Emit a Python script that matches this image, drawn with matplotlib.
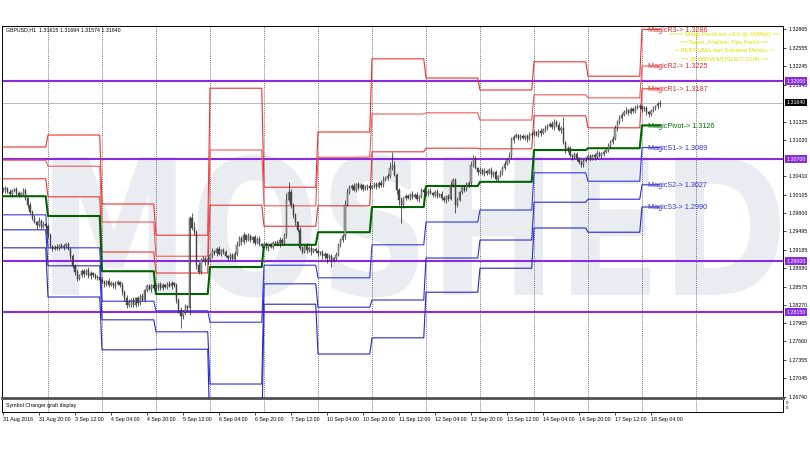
import numpy as np
import matplotlib.pyplot as plt
import matplotlib.transforms as mtrans
from matplotlib.textpath import TextPath
from matplotlib.patches import PathPatch
from matplotlib.font_manager import FontProperties

plt.rcParams['font.family'] = ['Liberation Sans', 'DejaVu Sans']

# GBPUSD H1 closes, in 1/10000 (13018 -> 1.3018)
first_open = 13020
closes = [
    13018, 13022, 13015, 13012, 13017, 13020, 13013, 13010, 13013, 13018,
    13005, 12993, 12982, 12972, 12965, 12960, 12967, 12957, 12962, 12958,
    12943, 12925, 12920, 12923, 12922, 12927, 12923, 12925, 12928, 12920,
    12908, 12892, 12882, 12870, 12877, 12883, 12878, 12885, 12875, 12880,
    12877, 12872, 12873, 12868, 12865, 12862, 12867, 12860, 12863, 12858,
    12862, 12865, 12860, 12848, 12838, 12827, 12832, 12835, 12827, 12838,
    12830, 12842, 12835, 12852, 12858, 12853, 12860, 12855, 12857, 12862,
    12855, 12860, 12857, 12862, 12858, 12863, 12860, 12835, 12818, 12808,
    12815, 12825, 12822, 12972, 12955, 12948, 12893, 12882, 12902, 12905,
    12898, 12903, 12910, 12917, 12913, 12920, 12912, 12918, 12915, 12908,
    12905, 12910, 12903, 12912, 12927, 12938, 12932, 12943, 12935, 12942,
    12935, 12940, 12930, 12937, 12928, 12925, 12928, 12922, 12927, 12923,
    12930, 12932, 12927, 12935, 12930, 12943, 13002, 13015, 12993, 12977,
    12965, 12952, 12922, 12915, 12925, 12918, 12922, 12915, 12920, 12917,
    12913, 12915, 12908, 12912, 12905, 12908, 12902, 12905, 12910, 12927,
    12935, 12942, 12993, 13015, 13022, 13025, 13018, 13028, 13022, 13027,
    13020, 13023, 13025, 13022, 13025, 13028, 13023, 13030, 13027, 13035,
    13038, 13042, 13055, 13060, 13043, 13018, 13002, 12993, 13005, 13008,
    13005, 13012, 13007, 13010, 13003, 13008, 13018, 13015, 13012, 13017,
    13013, 13010, 13015, 13008, 13012, 13005, 13002, 13008, 13003, 13027,
    13035, 12993, 13002, 13015, 13022, 13018, 13027, 13030, 13060, 13072,
    13055, 13048, 13052, 13045, 13050, 13047, 13052, 13043, 13048, 13037,
    13042, 13048, 13055, 13062, 13068, 13075, 13102, 13107, 13110, 13105,
    13108, 13105, 13108, 13103, 13110, 13112, 13115, 13110, 13117, 13113,
    13118, 13122, 13125, 13128, 13123, 13132, 13127, 13118, 13122, 13098,
    13085, 13088, 13077, 13073, 13078, 13072, 13065, 13060, 13067, 13072,
    13075, 13070, 13077, 13073, 13080, 13075, 13078, 13082, 13085, 13092,
    13098, 13103, 13122, 13132, 13138, 13143, 13148, 13152, 13147, 13153,
    13150, 13155, 13157, 13158, 13153, 13155, 13148, 13145, 13150, 13155,
    13158, 13162, 13164,
]
# upper / lower shadow beyond the body, same units
wick_up = [
    4, 3, 2, 5, 3, 2, 4, 3, 2, 4, 3, 2, 5, 3, 4, 2, 6, 3, 4, 2,
    3, 4, 2, 3, 5, 2, 3, 4, 2, 3, 2, 4, 3, 5, 2, 4, 3, 2, 5, 3,
    2, 3, 4, 2, 5, 3, 2, 4, 3, 2, 4, 3, 2, 5, 3, 6, 4, 3, 5, 2,
    4, 3, 5, 2, 3, 4, 2, 3, 5, 2, 3, 4, 2, 3, 5, 3, 2, 4, 3, 6,
    3, 4, 2, 3, 8, 10, 4, 6, 3, 4, 2, 5, 3, 4, 2, 3, 5, 2, 4, 3,
    2, 4, 3, 5, 6, 4, 3, 5, 2, 4, 3, 2, 4, 3, 5, 2, 3, 4, 2, 3,
    4, 2, 3, 5, 3, 4, 12, 17, 5, 4, 3, 2, 4, 3, 2, 5, 3, 4, 2, 3,
    3, 2, 4, 3, 2, 4, 3, 2, 5, 3, 4, 3, 8, 6, 4, 3, 5, 2, 4, 3,
    2, 4, 3, 5, 2, 3, 4, 3, 5, 6, 3, 4, 10, 22, 6, 4, 3, 5, 2, 4,
    3, 2, 4, 3, 5, 2, 3, 4, 2, 3, 4, 2, 3, 5, 2, 4, 3, 2, 4, 6,
    3, 4, 5, 2, 3, 4, 5, 3, 6, 4, 3, 2, 4, 3, 5, 2, 3, 4, 2, 3,
    2, 4, 3, 5, 4, 6, 5, 3, 4, 2, 3, 4, 2, 3, 5, 3, 4, 2, 3, 4,
    3, 5, 4, 3, 6, 4, 3, 4, 3, 18, 2, 4, 3, 2, 4, 3, 2, 4, 3, 2,
    3, 4, 2, 3, 5, 3, 4, 3, 2, 4, 3, 5, 4, 3, 6, 4, 3, 5, 2, 4,
    3, 5, 4, 3, 2, 4, 3, 2, 4, 3, 2, 3, 5,
]
wick_dn = [
    3, 4, 2, 3, 5, 2, 3, 4, 2, 3, 4, 5, 3, 4, 2, 6, 3, 4, 2, 3,
    5, 4, 3, 2, 4, 3, 2, 5, 3, 2, 4, 3, 5, 4, 2, 3, 4, 2, 3, 5,
    3, 2, 4, 3, 2, 5, 3, 4, 2, 3, 4, 2, 3, 5, 4, 6, 3, 8, 4, 3,
    5, 3, 2, 4, 3, 2, 4, 3, 2, 5, 3, 4, 2, 3, 2, 4, 3, 5, 4, 20,
    4, 3, 5, 12, 3, 4, 6, 4, 3, 2, 4, 3, 2, 5, 3, 4, 2, 3, 4, 2,
    3, 4, 2, 3, 4, 2, 5, 3, 4, 2, 3, 5, 4, 2, 3, 4, 2, 3, 5, 2,
    3, 4, 2, 3, 4, 3, 5, 2, 4, 6, 5, 3, 4, 3, 2, 4, 3, 5, 2, 3,
    4, 3, 5, 4, 8, 3, 12, 4, 3, 2, 4, 3, 5, 2, 3, 4, 2, 3, 4, 3,
    3, 2, 4, 3, 2, 4, 3, 2, 3, 4, 2, 3, 4, 3, 2, 6, 8, 30, 4, 3,
    2, 3, 4, 2, 3, 4, 3, 2, 3, 4, 2, 3, 4, 3, 2, 3, 4, 5, 3, 2,
    4, 13, 3, 2, 4, 3, 2, 3, 4, 3, 2, 4, 3, 2, 4, 3, 2, 5, 3, 4,
    3, 2, 4, 3, 2, 4, 3, 5, 2, 3, 4, 2, 3, 5, 2, 3, 4, 2, 3, 4,
    2, 3, 4, 2, 3, 4, 3, 2, 4, 3, 5, 4, 3, 4, 2, 6, 3, 4, 3, 2,
    4, 3, 2, 4, 3, 2, 4, 3, 2, 3, 4, 3, 2, 5, 3, 4, 2, 3, 4, 2,
    3, 4, 2, 3, 4, 3, 4, 5, 3, 2, 3, 4, 5,
]

# daily pivot levels (one value per day), same units
day_bars = [20] + [24] * 11 + [9]
r3 = [13090, 13110, 12995, 12943, 13188, 13023, 13115, 13237, 13205, 13185, 13232, 13208, 13286]
r2 = [13068, 13058, 12965, 12908, 13085, 12992, 13073, 13145, 13147, 13135, 13177, 13172, 13225]
r1 = [13037, 13007, 12915, 12880, 12993, 12958, 12992, 13082, 13088, 13087, 13142, 13122, 13187]
pv = [13008, 12975, 12883, 12845, 12890, 12927, 12948, 12990, 13025, 13032, 13085, 13088, 13126]
s1 = [12977, 12922, 12833, 12817, 12798, 12893, 12872, 12927, 12965, 12985, 13047, 13033, 13089]
s2 = [12952, 12892, 12802, 12782, 12695, 12862, 12823, 12835, 12905, 12935, 12998, 13003, 13027]
s3 = [12922, 12840, 12752, 12753, 12603, 12828, 12745, 12772, 12848, 12888, 12955, 12948, 12990]

key_levels = [1.32000, 1.30700, 1.29000, 1.28150]
bid = 1.31640
price_ticks = [1.32865, 1.32555, 1.32245, 1.31940, 1.31325, 1.31020,
               1.30410, 1.30105, 1.29800, 1.29495, 1.29185, 1.28880,
               1.28575, 1.28270, 1.27965, 1.27660, 1.27355, 1.27045, 1.26740]
date_labels = ['31 Aug 2016', '31 Aug 20:00', '3 Sep 12:00', '4 Sep 04:00',
               '4 Sep 20:00', '5 Sep 12:00', '6 Sep 04:00', '6 Sep 20:00',
               '7 Sep 12:00', '10 Sep 04:00', '10 Sep 20:00', '11 Sep 12:00',
               '12 Sep 04:00', '12 Sep 20:00', '13 Sep 12:00', '14 Sep 04:00',
               '14 Sep 20:00', '17 Sep 12:00', '18 Sep 04:00']
banner = ['==== MagicPivotLine v3.0 @ AhMi(ti) ==',
          '== Sewa, Analisa, Tips Forex ==',
          '= PERCUMA dari Sahabat Melayu =',
          '== @ WWW.MOSHED.COM ==']

c = np.array(closes) / 1e4
o = np.array([first_open] + closes[:-1]) / 1e4
hi = np.maximum(o, c) + np.array(wick_up) / 1e4
lo = np.minimum(o, c) - np.array(wick_dn) / 1e4
bars = np.arange(len(c))

fig = plt.figure(figsize=(8.1, 4.5), dpi=100)
W, H = 810, 450
ax = fig.add_axes([2 / W, 1 - 398 / H, 781 / W, 372 / H])
sub = fig.add_axes([2 / W, 1 - 412 / H, 781 / W, 12 / H])
xlim = (-1 / 2.25, 780 / 2.25)
ax.set_xlim(xlim)
sub.set_xlim(xlim)
ax.set_ylim(1.26717, 1.32917)

# watermark
fp = FontProperties(family='DejaVu Sans', weight='bold')
tp = TextPath((0, 0), 'MOSHED', size=1, prop=fp)
ext = tp.get_extents()
tr = (mtrans.Affine2D().translate(-ext.x0, -ext.y0)
      .scale(0.932 / ext.width, 0.385 / ext.height).translate(0.064, 0.27)
      + ax.transAxes)
ax.add_patch(PathPatch(tp, transform=tr, fc='#e9ecf1', ec='none', zorder=0))

# day separators
for b in range(20, 310, 24):
    for a in (ax, sub):
        a.axvline(b, color='#202020', lw=0.5, ls=(0, (1.2, 1.8)), zorder=1)

for v in key_levels:
    ax.axhline(v, color='#8a2be2', lw=1.5, zorder=2)
ax.axhline(bid, color='#b8b8b8', lw=0.7, zorder=2)

# pivot lines
styles = [(r3, '#f03030', 0.8), (r2, '#f05a5a', 0.8), (r1, '#e83535', 0.8),
          (pv, '#006400', 1.5), (s1, '#3535e8', 0.8), (s2, '#2b2bd0', 0.8),
          (s3, '#2828c0', 0.8)]
for lev, col, lw in styles:
    ys = np.repeat(lev, day_bars) / 1e4
    ax.plot(bars, ys, color=col, lw=lw, zorder=3)

# candles
ax.vlines(bars, lo, hi, color='#202020', lw=0.5, zorder=4)
up = c >= o
body = np.maximum(np.abs(c - o), 0.00003)
ax.bar(bars[up], body[up], bottom=np.minimum(o, c)[up], width=0.65,
       color='#a8a8a8', edgecolor='#303030', lw=0.3, zorder=5)
ax.bar(bars[~up], body[~up], bottom=np.minimum(o, c)[~up], width=0.65,
       color='#505050', edgecolor='#303030', lw=0.3, zorder=5)

# pivot labels for the current day
names = ['MagicR3', 'MagicR2', 'MagicR1', 'MagicPivot', 'MagicS1', 'MagicS2', 'MagicS3']
lab_cols = ['#e03030', '#e03030', '#e03030', '#007000', '#3030d8', '#3030d8', '#3030d8']
for (lev, _, _), nm, col in zip(styles, names, lab_cols):
    ax.text(286.5, lev[-1] / 1e4 - 0.00012, f'{nm}-> {lev[-1] / 1e4:.4f}',
            color=col, fontsize=5.2, va='center', ha='left', zorder=6)

for i, line in enumerate(banner):
    ax.text(0.925, 0.977 - i * 0.0215, line, transform=ax.transAxes,
            color='#e0e000', fontsize=4.4, ha='center', va='center', zorder=6)

ax.text(0.005, 0.989, 'GBPUSD,H1  1.31615 1.31694 1.31574 1.31640',
        transform=ax.transAxes, fontsize=3.8, va='center', ha='left')

# price scale
ax.yaxis.tick_right()
ax.set_yticks(price_ticks)
ax.set_yticklabels([f'{v:.5f}' for v in price_ticks])
ax.tick_params(axis='y', labelsize=3.8, length=2.5, pad=1.5, width=0.5)
ax.set_xticks([])
bt = mtrans.blended_transform_factory(ax.transAxes, ax.transData)
for v in key_levels:
    ax.text(1.004, v, f'{v:.5f}', transform=bt, color='white', fontsize=3.8,
            va='center', ha='left', zorder=7, clip_on=False,
            bbox=dict(boxstyle='square,pad=0.25', fc='#8a2be2', ec='none'))
ax.text(1.004, bid, f'{bid:.5f}', transform=bt, color='white', fontsize=3.8,
        va='center', ha='left', zorder=7, clip_on=False,
        bbox=dict(boxstyle='square,pad=0.25', fc='black', ec='none'))

for s in ['left', 'top', 'right']:
    ax.spines[s].set_linewidth(0.7)
ax.spines['bottom'].set_linewidth(2)
ax.spines['bottom'].set_color('#505050')

# indicator sub-window and time scale
sub.set_yticks([])
sub.set_xticks(range(0, 16 * len(date_labels), 16))
sub.set_xticklabels(date_labels)
for t in sub.get_xticklabels():
    t.set_ha('left')
sub.tick_params(axis='x', labelsize=3.8, length=2.5, pad=1, width=0.5)
sub.spines['top'].set_visible(False)
for s in ['left', 'bottom', 'right']:
    sub.spines[s].set_linewidth(0.7)
sub.text(0.005, 0.5, 'Symbol Changer graft display', transform=sub.transAxes,
         fontsize=3.8, va='center', ha='left')
sub.text(1.004, 0.75, '0', transform=sub.transAxes, fontsize=3.2, va='center')
sub.text(1.004, 0.3, '0', transform=sub.transAxes, fontsize=3.2, va='center')

fig.savefig('out.png', dpi=100)
